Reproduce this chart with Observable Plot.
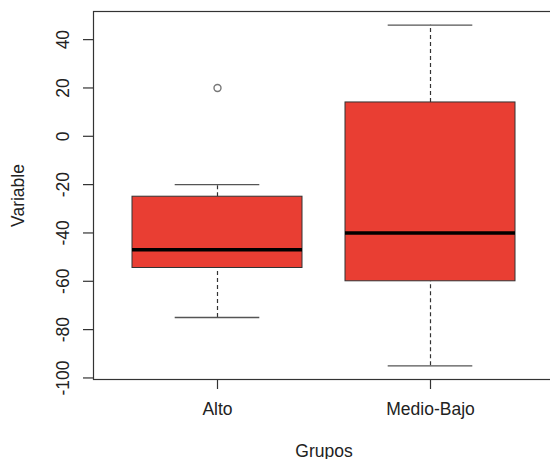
<!DOCTYPE html>
<html>
<head>
<meta charset="utf-8">
<script src="https://cdn.jsdelivr.net/npm/d3@7"></script>
<script src="https://cdn.jsdelivr.net/npm/@observablehq/plot@0.6"></script>
<style>
  html, body { margin: 0; padding: 0; background: #fff; overflow: hidden; }
</style>
</head>
<body>
<div id="chart"></div>
<script>
// Data
const groups = ["Alto", "Medio-Bajo"];
const lowerWhisker = [-75, -95];
const q1 = [-54.5, -60];
const medians = [-47, -40];
const q3 = [-25, 14];
const upperWhisker = [-20, 46];
const outlierGroups = ["Alto"];
const outlierValues = [20];
const yTicks = [-100, -80, -60, -40, -20, 0, 20, 40];

const stats = groups.map((g, i) => ({
  group: g, lo: lowerWhisker[i], q1: q1[i], med: medians[i], q3: q3[i], hi: upperWhisker[i]
}));
const outliers = outlierGroups.map((g, i) => ({group: g, value: outlierValues[i]}));

const font = "'Liberation Sans', Arial, Helvetica, sans-serif";
const fill = "#E93E33";

const chart = Plot.plot({
  width: 554,
  height: 459,
  marginLeft: 93,
  marginRight: 0,
  marginTop: 11,
  marginBottom: 80,
  style: {fontFamily: font, fontSize: "17.5px", color: "#222", background: "#fff"},
  x: {type: "band", domain: groups, paddingInner: 0.2, paddingOuter: 0.18, axis: null},
  y: {domain: [-100.64, 51.64], axis: null},
  marks: [
    // whiskers (dashed)
    Plot.ruleX(stats, {x: "group", y1: "q3", y2: "hi", stroke: "#333", strokeWidth: 1.2, strokeDasharray: "4,3"}),
    Plot.ruleX(stats, {x: "group", y1: "lo", y2: "q1", stroke: "#333", strokeWidth: 1.2, strokeDasharray: "4,3"}),
    // whisker caps
    Plot.tickY(stats, {x: "group", y: "hi", stroke: "#555", strokeWidth: 1.4, insetLeft: 42.7, insetRight: 42.7}),
    Plot.tickY(stats, {x: "group", y: "lo", stroke: "#555", strokeWidth: 1.4, insetLeft: 42.7, insetRight: 42.7}),
    // boxes
    Plot.barY(stats, {x: "group", y1: "q1", y2: "q3", fill: fill, stroke: "#333", strokeWidth: 1}),
    // medians
    Plot.tickY(stats, {x: "group", y: "med", stroke: "#000", strokeWidth: 3.5}),
    // outliers
    Plot.dot(outliers, {x: "group", y: "value", r: 3.5, stroke: "#777", strokeWidth: 1.4, fill: "none"}),
    // frame
    Plot.frame({stroke: "#333", strokeWidth: 1.2}),
    // y axis ticks + rotated labels
    Plot.axisY(yTicks, {tickSize: 10, stroke: "#333", strokeWidth: 1.2, text: null, label: null}),
    Plot.text(yTicks, {y: d => d, text: d => String(d), frameAnchor: "left", dx: -30, rotate: -90, textAnchor: "middle", fill: "#222"}),
    // x axis
    Plot.axisX(groups, {tickSize: 10, tickPadding: 13, stroke: "#333", strokeWidth: 1.2, fill: "#222", fontSize: 17.5, label: null}),
    // axis titles
    Plot.text(["Variable"], {frameAnchor: "left", dx: -75, rotate: -90, textAnchor: "middle", fill: "#222"}),
    Plot.text(["Grupos"], {frameAnchor: "bottom", dy: 77, textAnchor: "middle", fill: "#222"})
  ]
});
chart.style.maxWidth = "none";
document.getElementById("chart").appendChild(chart);
</script>
</body>
</html>
